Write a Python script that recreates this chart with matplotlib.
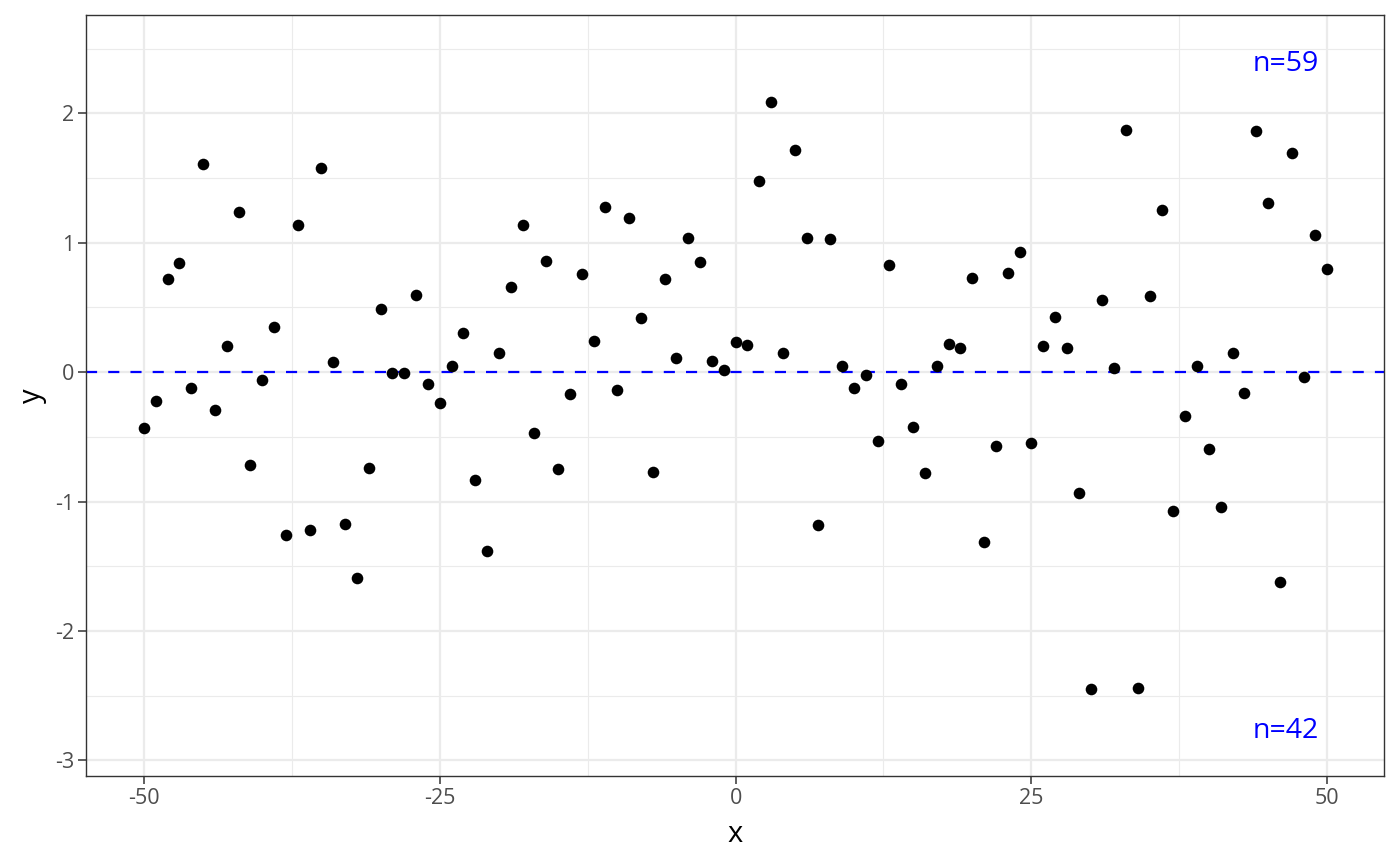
import matplotlib
matplotlib.use("Agg")
from matplotlib import pyplot as plt
from matplotlib.ticker import MultipleLocator
import numpy as np

plt.rcParams['font.family'] = ['Open Sans', 'DejaVu Sans']
plt.rcParams['axes.unicode_minus'] = False

# данные
x = np.arange(-50, 51)
y = [-0.43, -0.22, 0.72, 0.84, -0.12, 1.61, -0.29, 0.20, 1.24, -0.72,
     -0.06, 0.35, -1.26, 1.14, -1.22, 1.58, 0.08, -1.17, -1.59, -0.74,
     0.49, -0.005, -0.01, 0.60, -0.09, -0.24, 0.05, 0.30, -0.83, -1.38,
     0.15, 0.66, 1.14, -0.47, 0.86, -0.75, -0.17, 0.76, 0.24, 1.28,
     -0.14, 1.19, 0.42, -0.77, 0.72, 0.11, 1.04, 0.85, 0.09, 0.02,
     0.23, 0.21, 1.48, 2.09, 0.15, 1.72, 1.04, -1.18, 1.03, 0.05,
     -0.12, -0.02, -0.53, 0.83, -0.09, -0.42, -0.78, 0.05, 0.22, 0.19,
     0.73, -1.31, -0.57, 0.77, 0.93, -0.55, 0.20, 0.43, 0.19, -0.93,
     -2.45, 0.56, 0.03, 1.87, -2.44, 0.59, 1.25, -1.07, -0.34, 0.05,
     -0.59, -1.04, 0.15, -0.16, 1.86, 1.31, -1.62, 1.69, -0.04, 1.06,
     0.80]
y = np.array(y)
n_pos = int((y > 0).sum())
n_neg = int((y < 0).sum())

fig = plt.figure(figsize=(14, 8.66), dpi=100)
ax = fig.add_axes([86/1400, 1-776/866, (1384-86)/1400, (776-15)/866])

ax.set_xlim(-54.9, 54.8)
ax.set_ylim(-3.12, 2.76)
ax.xaxis.set_major_locator(MultipleLocator(25))
ax.xaxis.set_minor_locator(MultipleLocator(12.5))
ax.yaxis.set_major_locator(MultipleLocator(1))
ax.yaxis.set_minor_locator(MultipleLocator(0.5))
ax.grid(which='major', color='#ebebeb', lw=1.6)
ax.grid(which='minor', color='#ebebeb', lw=0.8)
ax.set_axisbelow(True)

ax.axhline(0, color='blue', lw=1.6, ls=(0, (5, 5)), zorder=2)
ax.scatter(x, y, s=70, color='black', zorder=3, linewidths=0)

ax.text(46.5, 2.38, f'n={n_pos}', color='blue', fontsize=20.5, ha='center', va='center')
ax.text(46.5, -2.77, f'n={n_neg}', color='blue', fontsize=20.5, ha='center', va='center')

for s in ax.spines.values():
    s.set_color('#333333')
    s.set_linewidth(1.0)
ax.tick_params(which='major', length=5.5, width=1.1, color='#333333',
               labelsize=15.5, labelcolor='#4d4d4d', pad=3)
ax.tick_params(which='minor', length=0)
ax.set_xticklabels([str(int(t)) for t in ax.get_xticks()])
ax.set_xlabel('x', fontsize=21)
ax.set_ylabel('y', fontsize=21)
ax.xaxis.set_label_coords(0.5, -(835-776)/(776-15), transform=ax.transAxes)
ax.xaxis.label.set_va('center')
ax.yaxis.set_label_coords(-(86-32)/(1384-86), 0.5, transform=ax.transAxes)
ax.yaxis.label.set_va('center')

fig.savefig('out.png', dpi=100)
